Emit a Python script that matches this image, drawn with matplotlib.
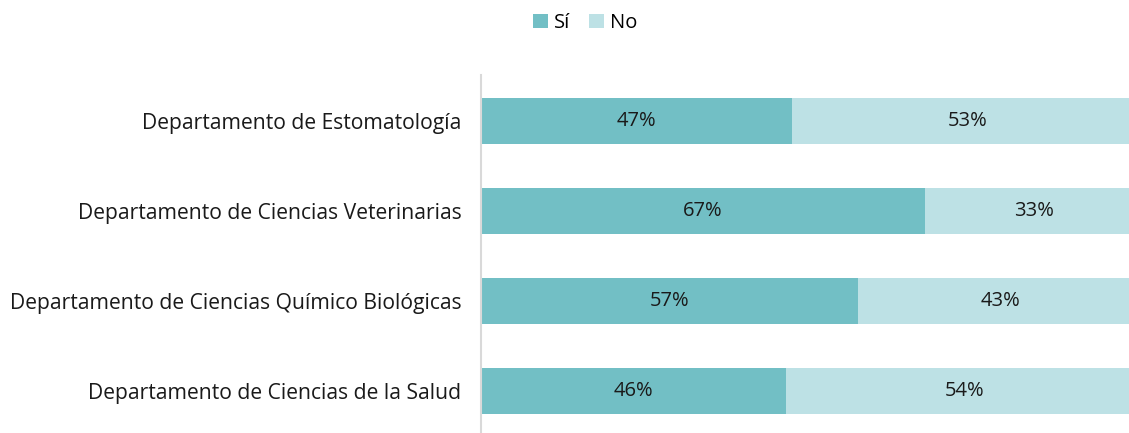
import matplotlib.pyplot as plt
import numpy as np

plt.rcParams['font.family'] = ['Open Sans', 'DejaVu Sans']

categories = ["Departamento de Estomatología",
              "Departamento de Ciencias Veterinarias",
              "Departamento de Ciencias Químico Biológicas",
              "Departamento de Ciencias de la Salud"]
si = [47, 67, 57, 46]
no = [53, 33, 43, 54]

c_si = "#72BFC5"
c_no = "#BDE1E5"

fig = plt.figure(figsize=(11.29, 4.33), dpi=100)
ax = fig.add_axes([481/1129, 1/433, 662/1129, 357/433])

y = np.arange(len(categories))
b1 = ax.barh(y, si, height=0.51, color=c_si, label="Sí")
b2 = ax.barh(y, no, left=si, height=0.51, color=c_no, label="No")

for i in range(len(categories)):
    ax.text(si[i] / 2, y[i], f"{si[i]}%", ha="center", va="center", fontsize=14.5, color="#1a1a1a")
    ax.text(si[i] + no[i] / 2, y[i], f"{no[i]}%", ha="center", va="center", fontsize=14.5, color="#1a1a1a")

ax.set_xlim(0, 100)
ax.set_ylim(3.456, -0.511)
ax.set_yticks(y)
ax.set_yticklabels(categories, fontsize=15.2, color="#1a1a1a")
ax.tick_params(axis="y", length=0, pad=14)
ax.set_xticks([])
for s in ["top", "right", "bottom"]:
    ax.spines[s].set_visible(False)
ax.spines["left"].set_color("#D9D9D9")
ax.spines["left"].set_linewidth(1.5)

fig.legend(handles=[b1, b2], loc="center", bbox_to_anchor=(585/1129, 1 - 23/433),
           ncol=2, frameon=False, fontsize=14.5, handlelength=0.75, handleheight=0.75,
           handletextpad=0.3, columnspacing=0.9)

fig.savefig("out.png", dpi=100)
